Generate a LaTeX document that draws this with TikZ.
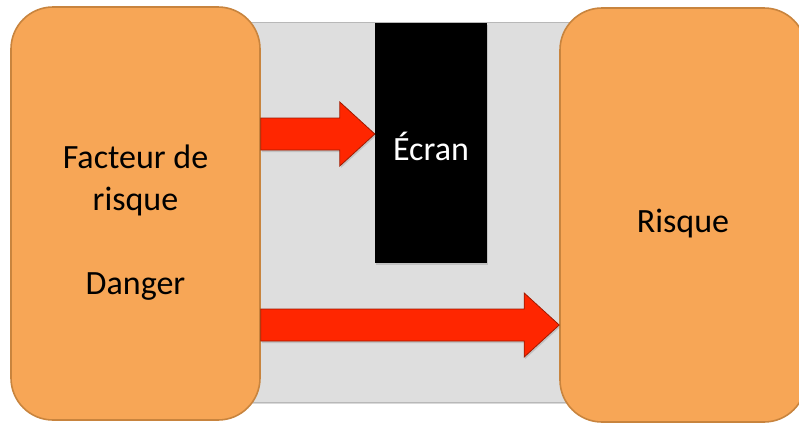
\documentclass[tikz,border=0pt]{standalone}
\usepackage{fontspec}
\setmainfont{Carlito}
\usepackage{xcolor}
\definecolor{boxorange}{HTML}{F7A656}
\definecolor{boxedge}{HTML}{C8843E}
\definecolor{zonegray}{HTML}{DEDEDE}
\definecolor{zoneedge}{HTML}{B8B8B8}
\definecolor{arrowred}{HTML}{FF2600}
\definecolor{arrowedge}{HTML}{A01A00}
\usepackage{tikz}
\usetikzlibrary{positioning,calc,shadows}

\begin{document}
\begin{tikzpicture}[
  x=1pt, y=-1pt,
  bloc/.style={
    rectangle, rounded corners=42pt, draw=boxedge, fill=boxorange,
    line width=1.6pt
  },
  txt/.style={align=center, font=\fontsize{34}{42}\selectfont},
  zone/.style={
    rectangle, draw=zoneedge, fill=zonegray, line width=0.6pt,
    drop shadow={opacity=0.3, shadow xshift=0pt, shadow yshift=-1.5pt}
  },
  ecranbox/.style={
    rectangle, fill=black,
    drop shadow={opacity=0.3, shadow xshift=1pt, shadow yshift=-2pt}
  },
  fleche/.style={
    draw=arrowedge, fill=arrowred, line width=0.8pt, line join=miter,
    drop shadow={opacity=0.3, shadow xshift=1pt, shadow yshift=-2pt},
    to path={let \p1=(\tikztostart), \p2=(\tikztotarget) in
      (\x1,\y1+16pt) -- (\x2-35pt,\y1+16pt) -- (\x2-35pt,\y1+32pt) -- (\x2,\y1)
      -- (\x2-35pt,\y1-32pt) -- (\x2-35pt,\y1-16pt) -- (\x1,\y1-16pt) -- cycle}
  }
]
\useasboundingbox (0,0) rectangle (799,426);

% Background zone
\node[zone, minimum width=320pt, minimum height=380pt] (fond) at (410,212.5) {};

% Screen
\node[ecranbox, minimum width=112pt, minimum height=240pt] (ecran) at (431,143) {};
\node[txt, text=white, yshift=-3pt] (ecrantxt) at (ecran.center) {Écran};

% Boxes
\node[bloc, minimum width=249pt, minimum height=413pt] (facteur) at (135.5,213.5) {};
\node[txt, yshift=-9pt] (facteurtxt) at (facteur.center) {Facteur de\\risque\\\mbox{}\\Danger};
\node[bloc, minimum width=246pt, minimum height=414pt] (risque) at (683,215) {};
\node[txt, yshift=-9pt] (risquetxt) at (risque.center) {Risque};

% Arrows
\coordinate (h1) at (0,134);
\coordinate (h2) at (0,325);
\draw[fleche] (facteur.east |- h1) to (ecran.west |- h1);
\draw[fleche] (facteur.east |- h2) to (risque.west |- h2);
\end{tikzpicture}
\end{document}
